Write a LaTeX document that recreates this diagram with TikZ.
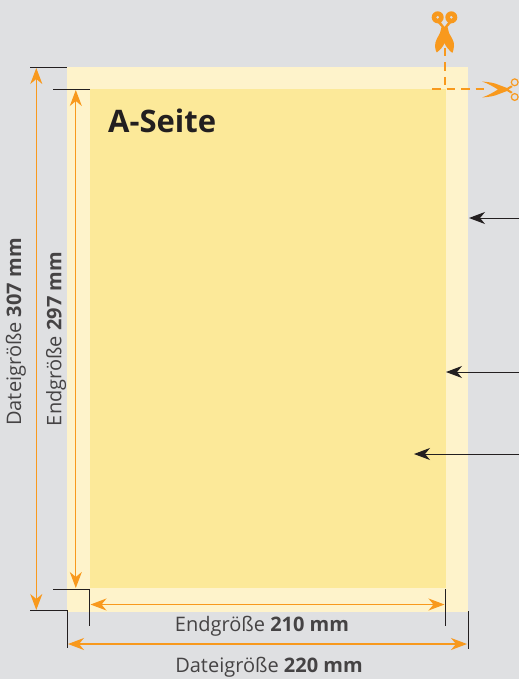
\documentclass[tikz,border=0pt]{standalone}
\usepackage{fontspec}
\setmainfont{Open Sans}
\usetikzlibrary{arrows.meta}
\definecolor{bgc}{HTML}{DFE0E2}
\definecolor{outerc}{HTML}{FEF3CB}
\definecolor{innerc}{HTML}{FCE999}
\definecolor{orc}{HTML}{F8991D}
\definecolor{inkc}{HTML}{231F20}
\definecolor{txtc}{HTML}{454344}
\tikzset{
  x=1pt,y=-1pt,
  dim/.style={draw=orc,line width=1.2pt,{Stealth[length=16pt,width=12pt,inset=5pt]}-{Stealth[length=16pt,width=12pt,inset=5pt]}},
  pointer/.style={draw=inkc,line width=1pt,-{Stealth[length=16pt,width=12pt,inset=5pt]}},
  tick/.style={draw=inkc,line width=1pt},
  cutline/.style={draw=orc,line width=2pt,dash pattern=on 8.5pt off 6pt},
  lab/.style={font=\fontsize{20}{22}\selectfont,text=txtc,inner sep=0pt},
  title/.style={font=\bfseries\fontsize{31}{34}\selectfont,text=inkc,inner sep=0pt,anchor=base west},
}
\begin{document}
\begin{tikzpicture}
\useasboundingbox (0,0) rectangle (519,679);
\fill[bgc] (0,0) rectangle (519,679);
\fill[outerc] (67,67) rectangle (468,612);
\fill[innerc] (90,89) rectangle (446,588);
% free ends
\coordinate (oT) at (36.3,68); \coordinate (oB) at (36.3,610);
\coordinate (iT) at (75.8,90); \coordinate (iB) at (75.8,588);
\coordinate (hiL) at (90.5,604.5); \coordinate (hiR) at (444.5,604.5);
\coordinate (hoL) at (68,644); \coordinate (hoR) at (467,644);
\coordinate (p1s) at (519,218); \coordinate (p1e) at (469,218);
\coordinate (p2s) at (519,372); \coordinate (p2e) at (446,372);
\coordinate (p3s) at (519,454); \coordinate (p3e) at (414,454);
\draw[dim] (oT) -- (oB);
\draw[dim] (iT) -- (iB);
\draw[dim] (hiL) -- (hiR);
\draw[dim] (hoL) -- (hoR);
\draw[pointer] (p1s) -- (p1e);
\draw[pointer] (p2s) -- (p2e);
\draw[pointer] (p3s) -- (p3e);
% crop ticks
\draw[tick] (30,67.5) -- (67,67.5);
\draw[tick] (53,90) -- (90,90);
\draw[tick] (53,589) -- (89.5,589) -- (89.5,626);
\draw[tick] (30,610.5) -- (67.5,610.5) -- (67.5,648);
\draw[tick] (445,589) -- (445,626);
\draw[tick] (468,611) -- (468,649);
% cut lines
\draw[cutline] (444.5,48) -- (444.5,88);
\draw[cutline] (432,89.5) -- (485,89.5);
% vertical scissors
\fill[orc,even odd rule] (437.7,17.3) circle (6) (437.7,17.3) circle (1.7);
\fill[orc,even odd rule] (451.3,17.3) circle (6) (451.3,17.3) circle (1.7);
\fill[orc] (440,21) -- (444.5,27) -- (449,21) -- (451,23) -- (447.5,27) -- (449,33)
  .. controls (451,37) and (454.5,41) .. (454,46) .. controls (454,49) and (453,51) .. (452.3,53)
  .. controls (449,50) and (446,47) .. (444.5,43)
  .. controls (443,47) and (440,50) .. (436.7,52.5)
  .. controls (436,51) and (435,49) .. (435,46) .. controls (435,41) and (438,37) .. (440,33)
  -- (441.5,27) -- (438,23) -- cycle;
% horizontal scissors
\fill[orc] (482,81.5) .. controls (489,82) and (495,83) .. (499,85) -- (507,88) -- (511,85.5) -- (512.5,87) -- (508.5,89.5)
  -- (512.5,92) -- (511,93.5) -- (507,91) -- (499,94) .. controls (495,96) and (489,97) .. (482,97.5)
  .. controls (488,95.5) and (493,92.5) .. (498,89.5) .. controls (493,86.5) and (488,83.5) .. (482,81.5) -- cycle;
\draw[orc,line width=1.2pt] (514.7,82.3) circle (3.4);
\draw[orc,line width=1.2pt] (514.7,97) circle (3.4);
% texts
\node[title] (ttl) at (108,133) {A-Seite};
\node[lab,rotate=90] (dh) at (16,332) {Dateigröße \textbf{307 mm}};
\node[lab,rotate=90] (eh) at (56,339) {Endgröße \textbf{297 mm}};
\node[lab] (ew) at (262,626.5) {Endgröße \textbf{210 mm}};
\node[lab] (dw) at (269,667.5) {Dateigröße \textbf{220 mm}};
\end{tikzpicture}
\end{document}
